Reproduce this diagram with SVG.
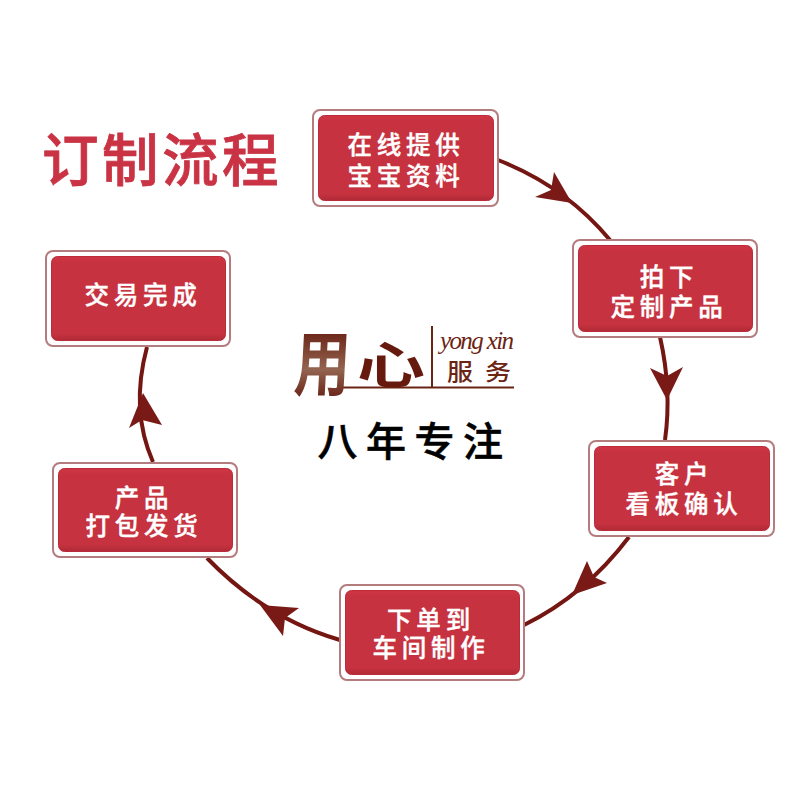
<svg xmlns="http://www.w3.org/2000/svg" width="800" height="800" viewBox="0 0 800 800">
<style>
.o{fill:#fff;stroke:#b47c7e;stroke-width:2}
.i{fill:url(#r);stroke:#bb2c3a;stroke-width:1}
.t{font-family:"Liberation Sans","Noto Sans CJK SC",sans-serif;font-size:24.500px;font-weight:500;fill:#fff;stroke:#fff;stroke-width:.4;letter-spacing:4.800px;text-anchor:middle}
.c{fill:none;stroke:#741612;stroke-width:4}
.h{fill:#7a1a16}
.s{font-family:"Liberation Sans","Noto Sans CJK SC",sans-serif}
</style>
<defs>
<linearGradient id="g" x1="0" y1="0" x2="0" y2="1">
<stop offset="0" stop-color="#651a0e"/><stop offset=".55" stop-color="#93644f"/><stop offset="1" stop-color="#5e1208"/>
</linearGradient>
<linearGradient id="r" x1="0" y1="0" x2="0" y2="1">
<stop offset="0" stop-color="#d03545"/><stop offset=".08" stop-color="#c6323f"/><stop offset=".92" stop-color="#c6323f"/><stop offset="1" stop-color="#b02a36"/>
</linearGradient>
</defs>
<rect width="800" height="800" fill="#fff"/>
<g id="connectors">
<path class="c" d="M498 160Q565 186 610 240"/><path class="h" d="M554 172L572 203L535 197L551 190Z"/>
<path class="c" d="M660 337Q672 390 665 440"/><path class="h" d="M650 368L667 400L683 367L667 376Z"/>
<path class="c" d="M629 537Q585 595 524 625"/><path class="h" d="M587 561L572 595L607 583L594 577Z"/>
<path class="c" d="M340 640Q265 618 207 558"/><path class="h" d="M260 605L299 608L285 618L283 636Z"/>
<path class="c" d="M153 462Q130 410 147 347"/><path class="h" d="M143 393L129 428L142 420L162 425Z"/>
</g>
<text id="title" class="s" x="162" y="181" font-size="56.500" font-weight="500" fill="#c93344" stroke="#c93344" stroke-width=".8" letter-spacing="3.500" text-anchor="middle">订制流程</text>
<g id="n1"><rect class="o" x="313" y="110" width="185" height="96" rx="7"/><rect class="i" x="318.500" y="115.500" width="175" height="85" rx="6"/><text class="t" x="406" y="154">在线提供</text><text class="t" x="406" y="185">宝宝资料</text></g>
<g id="n2"><rect class="o" x="573" y="240" width="184" height="97" rx="7"/><rect class="i" x="578.500" y="245.500" width="174" height="86" rx="6"/><text class="t" x="669" y="286">拍下</text><text class="t" x="669" y="316">定制产品</text></g>
<g id="n3"><rect class="o" x="589" y="441" width="185" height="95" rx="7"/><rect class="i" x="594.500" y="446.500" width="175" height="84" rx="6"/><text class="t" x="684" y="483">客户</text><text class="t" x="684" y="513">看板确认</text></g>
<g id="n4"><rect class="o" x="340" y="585" width="184" height="95" rx="7"/><rect class="i" x="345.500" y="590.500" width="174" height="84" rx="6"/><text class="t" x="431" y="629">下单到</text><text class="t" x="431" y="657">车间制作</text></g>
<g id="n5"><rect class="o" x="53" y="463" width="184" height="94" rx="7"/><rect class="i" x="58.500" y="468.500" width="174" height="83" rx="6"/><text class="t" x="144" y="507">产品</text><text class="t" x="144" y="535">打包发货</text></g>
<g id="n6"><rect class="o" x="46" y="251" width="184" height="95" rx="7"/><rect class="i" x="51.500" y="256.500" width="174" height="84" rx="6"/><text class="t" x="143" y="304">交易完成</text></g>
<g id="logo">
<path d="M343 387.500H514M432 326V387" fill="none" stroke="#6b2413" stroke-width="2"/>
<text class="s" transform="translate(293 390) scale(1 1.28) skewX(-4)" font-size="56" font-weight="700" fill="url(#g)">用</text>
<text class="s" transform="translate(357 383) scale(1 .72)" font-size="68" font-weight="700" fill="#66190d">心</text>
<text x="440" y="349" font-family="'Liberation Serif',serif" font-style="italic" font-size="25" fill="#6b2413" textLength="74">yong xin</text>
<text class="s" transform="translate(447 380) scale(1 .88)" font-size="26" font-weight="500" fill="#6b2413" letter-spacing="12">服务</text>
</g>
<text id="slogan" class="s" x="414.500" y="456" font-size="40" font-weight="500" fill="#000" stroke="#000" stroke-width=".6" letter-spacing="8.500" text-anchor="middle">八年专注</text>
</svg>
